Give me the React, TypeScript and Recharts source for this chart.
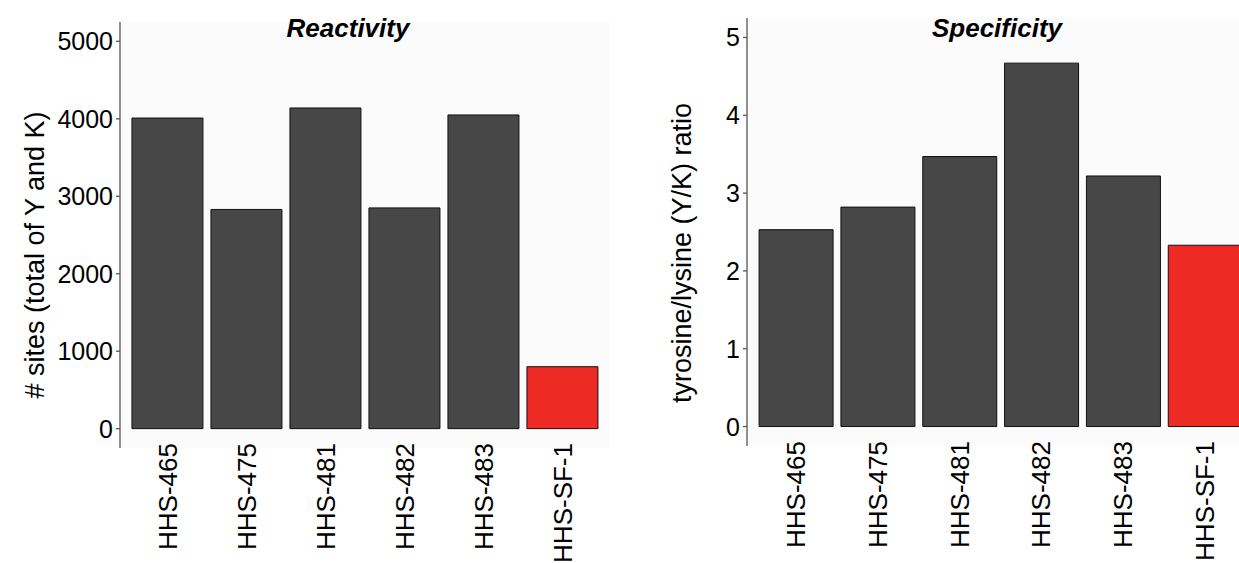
import React from "react";
import { BarChart, Bar, XAxis, YAxis, Cell, CartesianGrid } from "recharts";

const categories = ["HHS-465", "HHS-475", "HHS-481", "HHS-482", "HHS-483", "HHS-SF-1"];
const reactivityValues = [4010, 2830, 4140, 2850, 4050, 800];
const specificityValues = [2.53, 2.82, 3.47, 4.67, 3.22, 2.33];
const reactivityTicks = [0, 1000, 2000, 3000, 4000, 5000];
const specificityTicks = [0, 1, 2, 3, 4, 5];
const highlightCategory = "HHS-SF-1";

const FONT = "'Liberation Sans', Arial, sans-serif";
const DARK = "#474747";
const RED = "#EE2A25";

const reactivityData = categories.map((c, i) => ({ name: c, value: reactivityValues[i] }));
const specificityData = categories.map((c, i) => ({ name: c, value: specificityValues[i] }));

const XTick = (props: any) => {
  const { x, y, payload } = props;
  const ty = y - 5;
  return (
    <text
      x={x}
      y={ty}
      transform={`rotate(-90, ${x}, ${ty})`}
      textAnchor="end"
      dominantBaseline="central"
      fontFamily={FONT}
      fontSize={26}
      fill="#000"
    >
      {payload.value}
    </text>
  );
};

const YTick = (props: any) => {
  const { x, y, payload } = props;
  return (
    <text x={x} y={y} textAnchor="end" dominantBaseline="central" fontFamily={FONT} fontSize={25} fill="#000">
      {payload.value}
    </text>
  );
};

type PanelProps = {
  data: { name: string; value: number }[];
  ticks: number[];
  domain: [number, number];
  title: string;
  titleX: number;
  yLabel: string;
  yLabelX: number;
  yLabelY: number;
  width: number;
  yAxisWidth: number;
  marginTop: number;
  marginRight: number;
  xAxisHeight: number;
  pad: number;
};

const Panel = (p: PanelProps) => (
  <div style={{ position: "relative", width: p.width, height: 563 }}>
    <BarChart
      width={p.width}
      height={563}
      data={p.data}
      margin={{ top: p.marginTop, right: p.marginRight, bottom: 0, left: 0 }}
      barCategoryGap="5%"
    >
      <CartesianGrid horizontal={false} vertical={false} fill="#FBFBFB" stroke="none" />
      <XAxis
        dataKey="name"
        axisLine={false}
        tickLine={false}
        tickSize={0}
        tickMargin={0}
        height={p.xAxisHeight}
        interval={0}
        tick={<XTick />}
        padding={{ left: p.pad, right: p.pad }}
      />
      <YAxis
        width={p.yAxisWidth}
        domain={p.domain}
        ticks={p.ticks}
        type="number"
        allowDataOverflow
        axisLine={{ stroke: "#555", strokeWidth: 1.3 }}
        tickLine={{ stroke: "#555", strokeWidth: 1.3 }}
        tickSize={4}
        tick={<YTick />}
        tickMargin={3}
      />
      <Bar dataKey="value" isAnimationActive={false} stroke="#111" strokeWidth={1}>
        {p.data.map((d) => (
          <Cell key={d.name} fill={d.name === highlightCategory ? RED : DARK} />
        ))}
      </Bar>
    </BarChart>
    <svg
      width={p.width}
      height={563}
      style={{ position: "absolute", left: 0, top: 0, pointerEvents: "none" }}
    >
      <text
        x={p.titleX}
        y={37}
        textAnchor="middle"
        fontFamily={FONT}
        fontSize={26}
        fontWeight="bold"
        fontStyle="italic"
        fill="#000"
      >
        {p.title}
      </text>
      <text
        x={p.yLabelX}
        y={p.yLabelY}
        transform={`rotate(-90, ${p.yLabelX}, ${p.yLabelY})`}
        textAnchor="middle"
        dominantBaseline="central"
        fontFamily={FONT}
        fontSize={27}
        fill="#000"
      >
        {p.yLabel}
      </text>
    </svg>
  </div>
);

export default function App() {
  return (
    <div
      style={{
        position: "absolute",
        left: 0,
        top: 0,
        width: 1239,
        height: 563,
        overflow: "hidden",
        background: "#fff",
      }}
    >
      <div style={{ position: "absolute", left: 0, top: 0 }}>
        <Panel
          data={reactivityData}
          ticks={reactivityTicks}
          domain={[-250, 5250]}
          title="Reactivity"
          titleX={348}
          yLabel="# sites (total of Y and K)"
          yLabelX={35}
          yLabelY={255}
          width={620}
          yAxisWidth={120}
          marginTop={22}
          marginRight={10}
          xAxisHeight={115}
          pad={8}
        />
      </div>
      <div style={{ position: "absolute", left: 620, top: 0 }}>
        <Panel
          data={specificityData}
          ticks={specificityTicks}
          domain={[-0.25, 5.25]}
          title="Specificity"
          titleX={377}
          yLabel="tyrosine/lysine (Y/K) ratio"
          yLabelX={62}
          yLabelY={253}
          width={650}
          yAxisWidth={127}
          marginTop={18}
          marginRight={16}
          xAxisHeight={117}
          pad={8}
        />
      </div>
    </div>
  );
}
